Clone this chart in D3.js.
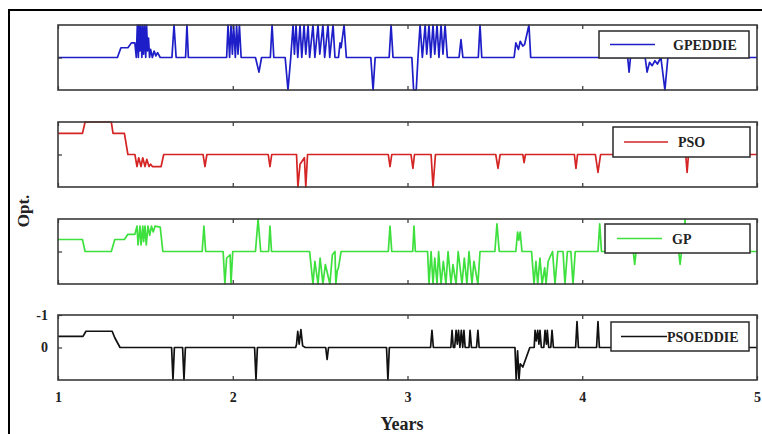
<!DOCTYPE html>
<html><head><meta charset="utf-8">
<script src="https://cdn.jsdelivr.net/npm/d3@7"></script>
<style>html,body{margin:0;padding:0;background:#fff;} svg{display:block}</style>
</head><body><svg id="c" width="762" height="434"></svg>
<script>
// ---------- DATA ----------
const xTicks = [1, 2, 3, 4, 5];
const yTicks = [-1, 0];
const seriesNames = ["GPEDDIE", "PSO", "GP", "PSOEDDIE"];
const xLabel = "Years";
const yLabel = "Opt.";

const gpeddie = [[1.00,0],[1.34,0],[1.36,-0.3],[1.40,-0.3],[1.42,-0.45],[1.44,-0.45],
 [1.448,0],[1.454,-1],[1.460,0],[1.464,-1],[1.469,-0.2],[1.474,-1],[1.480,0],[1.485,-1],[1.490,-0.1],[1.496,-1],[1.502,0],[1.507,-1],[1.512,-0.2],[1.518,-0.6],[1.524,0],[1.530,-0.25],[1.54,0],[1.55,-0.2],[1.56,-0.05],[1.57,-0.15],[1.585,0],
 [1.652,0],[1.664,-1],[1.676,0],[1.73,0],[1.738,-1],[1.746,0],
 [1.965,0],[1.973,-1],[1.982,0],[1.99,-1],[1.998,-0.1],[2.005,-1],[2.015,0],[2.022,-1],[2.03,-0.1],[2.038,-1],[2.048,0],
 [2.13,0],[2.15,0.45],[2.165,0],[2.215,0],[2.225,-1],[2.235,0],
 [2.30,0],[2.316,1],[2.332,0],[2.345,-1],[2.353,-0.1],[2.362,-1],[2.372,0],[2.385,-1],[2.395,0],[2.408,-1],[2.418,-0.1],[2.431,-1],[2.44,0],[2.459,-1],[2.47,0],[2.488,-1],[2.498,-0.1],[2.516,-1],[2.526,0],[2.545,-1],[2.555,0],[2.574,-1],[2.585,0],[2.605,0],[2.614,-0.45],[2.62,-0.3],[2.637,-1],[2.65,0],
 [2.79,0],[2.803,1],[2.815,0],[2.895,0],[2.906,-1],[2.917,0],
 [3.025,0],[3.035,1],[3.05,1],[3.06,0],[3.072,-1],[3.085,0],[3.101,-1],[3.11,-0.1],[3.123,-1],[3.133,0],[3.146,-1],[3.156,-0.1],[3.169,-1],[3.18,0],[3.192,-1],[3.203,-0.1],[3.215,-1],[3.228,0],
 [3.295,0],[3.306,-0.55],[3.317,0],[3.405,0],[3.415,-1],[3.425,0],
 [3.61,0],[3.62,-0.45],[3.635,-0.25],[3.645,-0.5],[3.66,-0.35],[3.67,-0.4],[3.695,-1],[3.705,0],
 [4.26,0],[4.268,0.45],[4.276,0],[4.36,0],[4.371,0.45],[4.385,0.15],[4.40,0.25],[4.416,0.1],[4.43,0.2],[4.45,0],[4.473,1],[4.49,0],[5.0,0]];

const pso = [[1.0,-0.65],[1.14,-0.65],[1.155,-1],[1.305,-1],[1.315,-0.65],[1.38,-0.65],[1.40,0],[1.44,0],
 [1.452,0.37],[1.462,0.1],[1.475,0.37],[1.485,0.1],[1.498,0.37],[1.508,0.15],[1.521,0.37],[1.53,0.3],[1.54,0.37],[1.59,0.37],[1.605,0],
 [1.83,0],[1.841,0.37],[1.852,0],[2.203,0],[2.213,0.37],[2.223,0],
 [2.365,0],[2.373,1],[2.385,0.3],[2.41,0.1],[2.418,1],[2.428,0],
 [2.89,0],[2.90,0.37],[2.91,0],[3.02,0],[3.031,0.43],[3.04,0],[3.135,0],[3.146,1],[3.16,0],
 [3.505,0],[3.518,0.43],[3.53,0],[3.66,0],[3.667,0.25],[3.675,0],[3.955,0],[3.964,0.43],[3.973,0],
 [4.075,0],[4.09,0.55],[4.105,0],[4.592,0],[4.60,0.55],[4.608,0],[5,0]];

const gp = [[1.0,-0.37],[1.14,-0.37],[1.155,0],[1.305,0],[1.325,-0.37],[1.38,-0.37],[1.40,-0.53],[1.44,-0.53],
 [1.452,-0.78],[1.458,-0.2],[1.469,-0.78],[1.475,-0.2],[1.485,-0.78],[1.49,-0.3],[1.498,-0.78],[1.505,-0.2],[1.515,-0.78],[1.525,-0.5],[1.535,-0.78],[1.545,-0.6],[1.555,-0.78],[1.585,-0.75],[1.60,0],
 [1.825,0],[1.835,-0.78],[1.845,0],[1.945,0],[1.955,1],[1.965,0.2],[1.985,0.1],[1.99,1],[2.0,0],
 [2.13,0],[2.145,-1],[2.16,0],[2.205,0],[2.213,-0.78],[2.222,0],
 [2.44,0],[2.459,1],[2.47,0.3],[2.488,1],[2.50,0.2],[2.516,1],[2.53,0.4],[2.556,1],[2.57,0.1],[2.585,0],[2.59,1],[2.598,0.6],[2.605,0.5],[2.62,0],
 [2.89,0],[2.90,-0.78],[2.91,0],[3.03,0],[3.037,-0.78],[3.045,0],
 [3.115,0],[3.123,1],[3.135,0],[3.146,1],[3.156,0.2],[3.169,1],[3.178,0],[3.192,1],[3.205,0.3],[3.22,1],[3.232,0],[3.249,1],[3.26,0.4],[3.278,1],[3.29,0],[3.312,1],[3.325,0.2],[3.34,1],[3.352,0],[3.369,1],[3.38,0.3],[3.403,1],[3.415,0],
 [3.5,0],[3.512,-0.85],[3.525,0],[3.62,0],[3.63,-0.6],[3.637,-0.35],[3.645,-0.6],[3.655,0],
 [3.71,0],[3.724,1],[3.735,0.3],[3.745,1],[3.758,0.2],[3.77,1],[3.785,0.5],[3.793,1],[3.805,0.3],[3.83,0],[3.844,1],[3.86,0],[3.89,0],[3.901,1],[3.915,0],[3.935,0],[3.947,1],[3.96,0],
 [4.09,0],[4.10,-0.85],[4.11,0],[4.292,0],[4.30,0.4],[4.308,0],[4.552,0],[4.56,0.4],[4.568,0],[4.58,0],[4.588,-1],[4.596,0],[5,0]];

const psoeddie = [[1.0,-0.34],[1.143,-0.34],[1.16,-0.5],[1.31,-0.5],[1.325,-0.3],[1.355,0],
 [1.65,0],[1.658,1],[1.666,0],[1.713,0],[1.721,1],[1.729,0],[2.125,0],[2.133,1],[2.141,0],
 [2.36,0],[2.365,-0.1],[2.372,-0.5],[2.38,-0.1],[2.39,-0.55],[2.40,-0.05],[2.415,0],
 [2.532,0],[2.54,0.37],[2.548,0],[2.88,0],[2.888,1],[2.896,0],
 [3.132,0],[3.14,-0.53],[3.148,0],
 [3.248,0],[3.255,-0.53],[3.262,0],[3.27,0],[3.278,-0.53],[3.285,-0.1],[3.292,-0.53],[3.30,0],[3.308,-0.53],[3.316,0],[3.323,-0.53],[3.33,0],[3.352,0],[3.358,-0.53],[3.366,0],[3.395,0],[3.403,-0.53],[3.41,0],
 [3.615,0],[3.622,1],[3.63,0.1],[3.638,1],[3.645,0.5],[3.66,0.6],[3.70,0],
 [3.725,0],[3.73,-0.53],[3.737,-0.2],[3.745,-0.53],[3.752,-0.1],[3.758,-0.53],[3.766,0],[3.78,0],[3.787,-0.53],[3.795,-0.1],[3.80,-0.53],[3.808,0],[3.82,0],[3.827,-0.53],[3.835,0],
 [3.962,0],[3.97,-0.8],[3.978,0],[4.082,0],[4.09,-0.8],[4.098,0],[5,0]];

// ---------- STYLE / LAYOUT ----------
const allSeries = [gpeddie, pso, gp, psoeddie];
const colors = ["#1e1ec8", "#d42424", "#3ee03e", "#111111"];
const font = "'Liberation Serif','Times New Roman',serif";
const left = 58, right = 757, ph = 65;
const panelTops = [25, 122, 219, 315];
const legBoxes = [ // x0, x1, y offset from panel top, height, line x0, line x1, text x
  [599, 749, 6, 27, 610, 655, 673],
  [613, 750, 5, 30, 624, 668, 678],
  [605, 750, 5, 29, 617, 662, 672],
  [611, 749, 7, 29, 621, 667, 667]
];

const svg = d3.select("#c");
const x = d3.scaleLinear().domain([1, 5]).range([left, right]);
const plainFmt = d => String(d);

// outer frame
svg.append("path").attr("d", "M9,434 V10 H762").attr("fill", "none")
  .attr("stroke", "#000").attr("stroke-width", 2);

const defs = svg.append("defs");

allSeries.forEach((data, i) => {
  const top = panelTops[i];
  const y = d3.scaleLinear().domain([-1, 1]).range([top, top + ph]);
  const g = svg.append("g");

  defs.append("clipPath").attr("id", "clip" + i)
    .append("rect").attr("x", left).attr("y", top - 1).attr("width", right - left).attr("height", ph + 2);

  g.append("path").datum(data)
    .attr("clip-path", "url(#clip" + i + ")")
    .attr("d", d3.line().x(d => x(d[0])).y(d => y(d[1])))
    .attr("fill", "none").attr("stroke", colors[i]).attr("stroke-width", 1.7)
    .attr("stroke-linejoin", "round");

  // axes (ticks inward)
  const axB = d3.axisBottom(x).tickValues(xTicks).tickSize(-4).tickPadding(12)
    .tickFormat(i === 3 ? plainFmt : () => "");
  const gb = g.append("g").attr("transform", `translate(0,${top + ph})`).call(axB);
  const axT = d3.axisTop(x).tickValues(xTicks).tickSize(-4).tickFormat(() => "");
  const gt = g.append("g").attr("transform", `translate(0,${top})`).call(axT);
  const axL = d3.axisLeft(y).tickValues(i === 3 ? yTicks : [0]).tickSize(-4).tickPadding(10)
    .tickFormat(i === 3 ? plainFmt : () => "");
  const gl = g.append("g").attr("transform", `translate(${left},0)`).call(axL);
  [gb, gt, gl].forEach(a => {
    a.select(".domain").remove();
    a.selectAll(".tick line").attr("stroke", "#333").attr("stroke-width", 1.2);
    a.selectAll(".tick text").attr("font-family", font).attr("font-weight", "bold")
      .attr("font-size", 14).attr("fill", "#222");
  });

  // panel frame
  g.append("rect").attr("x", left).attr("y", top).attr("width", right - left).attr("height", ph)
    .attr("fill", "none").attr("stroke", "#3a3a3a").attr("stroke-width", 1.6);

  // legend
  const lb = legBoxes[i];
  const ly = top + lb[2];
  g.append("rect").attr("x", lb[0]).attr("y", ly).attr("width", lb[1] - lb[0]).attr("height", lb[3])
    .attr("fill", "#fff").attr("stroke", "#2a2a2a").attr("stroke-width", 1.5);
  g.append("line").attr("x1", lb[4]).attr("x2", lb[5]).attr("y1", ly + lb[3] / 2).attr("y2", ly + lb[3] / 2)
    .attr("stroke", colors[i]).attr("stroke-width", 1.5);
  g.append("text").attr("x", lb[6]).attr("y", ly + lb[3] / 2 + 5)
    .attr("font-family", font).attr("font-weight", "bold").attr("font-size", 14)
    .attr("fill", "#222").text(seriesNames[i]);
});

// axis titles
svg.append("text").attr("x", 402).attr("y", 430).attr("text-anchor", "middle")
  .attr("font-family", font).attr("font-weight", "bold").attr("font-size", 18).attr("fill", "#222")
  .text(xLabel);
svg.append("text").attr("transform", "translate(29,211) rotate(-90)").attr("text-anchor", "middle")
  .attr("font-family", font).attr("font-weight", "bold").attr("font-size", 17).attr("fill", "#222")
  .text(yLabel);
</script>
</body></html>
